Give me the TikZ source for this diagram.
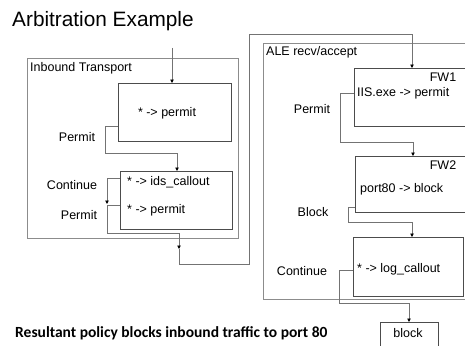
\documentclass[tikz,border=0pt]{standalone}
\usepackage{fontspec}
\setmainfont{Liberation Sans}
\newfontfamily\carl{Carlito}
\usetikzlibrary{arrows.meta}
\tikzset{
  outerbox/.style={draw=black!45, line width=0.9pt, rectangle, anchor=north west, inner sep=0pt},
  innerbox/.style={draw=black!70, line width=0.9pt, rectangle, anchor=north west, inner sep=0pt},
  conn/.style={draw=black!55, line width=0.9pt},
  arr/.style={conn, -{Triangle[length=3.5pt,width=3.5pt,color=black]}},
  lbl/.style={font=\fontsize{12.5}{14}\selectfont, inner sep=0pt},
}
\begin{document}
\begin{tikzpicture}[x=1pt,y=-1pt]
\useasboundingbox (0,0) rectangle (465,345);
\clip (0,0) rectangle (465,345);
\fill[white] (0,0) rectangle (465,345);

\node[anchor=base west, inner sep=0pt, font=\fontsize{20.8}{24}\selectfont] (title) at (12,27) {Arbitration Example};

% Inbound Transport
\node[outerbox, minimum width=211pt, minimum height=180pt] (it) at (27,58) {};
\node[lbl, anchor=base west] (itl) at (30,71) {Inbound Transport};
\node[innerbox, minimum width=113pt, minimum height=58pt] (b1) at (118,83) {};
\node[lbl] (b1t) at (167,113) {* -> permit};
\node[innerbox, minimum width=112pt, minimum height=58pt] (b2) at (120,171) {};
\node[lbl, anchor=west] (b2a) at (127,182) {* -> ids\_callout};
\node[lbl, anchor=west] (b2b) at (127,210) {* -> permit};
\node[lbl] (lp1) at (77,137) {Permit};
\node[lbl] (lc1) at (72,185) {Continue};
\node[lbl] (lp2) at (79,215) {Permit};

% ALE
\node[outerbox, minimum width=220pt, minimum height=256pt] (ale) at (263,43) {};
\node[lbl, anchor=base west] (alel) at (266,56) {ALE recv/accept};
\node[innerbox, minimum width=130pt, minimum height=58pt] (fw1) at (354,68) {};
\node[lbl] (fw1n) at (443,77) {FW1};
\node[lbl, anchor=west] (fw1t) at (357,93) {IIS.exe -> permit};
\node[innerbox, minimum width=130pt, minimum height=56pt] (fw2) at (355,156) {};
\node[lbl] (fw2n) at (443,165) {FW2};
\node[lbl, anchor=west] (fw2t) at (360,189) {port80 -> block};
\node[innerbox, minimum width=110pt, minimum height=59pt] (log) at (353,237) {};
\node[lbl, anchor=west] (logt) at (357,269) {* -> log\_callout};
\node[lbl] (lp3) at (312,109) {Permit};
\node[lbl] (lb3) at (313,212) {Block};
\node[lbl] (lc3) at (302,271) {Continue};

\node[innerbox, minimum width=58pt, minimum height=40pt] (blk) at (380,322) {};
\node[lbl] (blkt) at (408,333) {block};

\node[anchor=west, inner sep=0pt, font=\carl\bfseries\fontsize{15.5}{18}\selectfont] (res) at (15,333) {Resultant policy blocks inbound traffic to port 80};

% connectors
\coordinate (in0) at (172,48);
\draw[arr] (in0) -- (in0 |- b1.north);
\draw[arr] ([yshift=-43pt]b1.north west) -| (105,153) -| ([xshift=57pt]b2.north west);
\draw[arr] ([yshift=-7pt]b2.north west) -| (107,204);
\draw[arr] ([yshift=-34pt]b2.north west) -| (107,233) -| (179,249);
\coordinate (m1) at (179,249);
\draw[arr] (m1) |- (249,264) -- (249,34) -| ([xshift=58pt]fw1.north west);
\draw[arr] ([yshift=-25pt]fw1.north west) -| (340,142) -| ([xshift=58pt]fw2.north west);
\draw[arr] ([yshift=-51pt]fw2.north west) -| (348,222) -| ([xshift=59pt]log.north west);
\draw[arr] ([yshift=-33pt]log.north west) -| (339,303) -| ([xshift=29pt]blk.north west);
\end{tikzpicture}
\end{document}
